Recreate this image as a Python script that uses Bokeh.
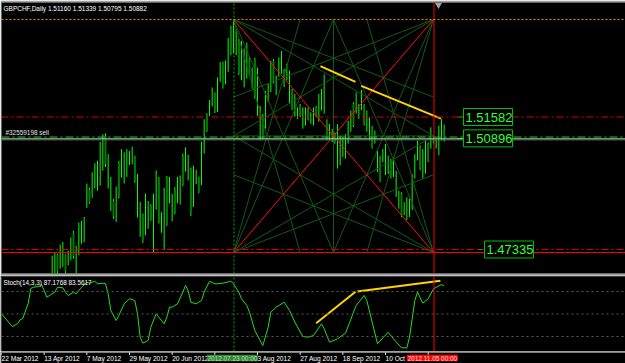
import numpy as np
from bokeh.plotting import figure
from bokeh.models import Range1d, Span, Label, BoxAnnotation
from bokeh.layouts import column
from bokeh.embed import file_html
from bokeh.resources import INLINE
from bokeh.core.properties import value

# ------------------------------------------------------------------ data
symbol_title = "GBPCHF,Daily  1.51160 1.51339 1.50795 1.50882"
stoch_title = "Stoch(14,3,3) 87.1768 83.5617"
order_text = "#32559198 sell"

first_bar = 19  # bar index 0 = 22 Mar 2012 (daily bars, weekdays)

opens = [
    1.4660, 1.4704, 1.4717, 1.4676, 1.4740, 1.4718, 1.4687, 1.4704, 1.4787, 1.4660,
    1.4723, 1.4758, 1.4763, 1.4873, 1.4927, 1.4906, 1.4937, 1.4932, 1.4947, 1.4993,
    1.5098, 1.4937, 1.4865, 1.4889, 1.4830, 1.5011, 1.4972, 1.4952, 1.4972, 1.5008,
    1.5013, 1.5029, 1.4845, 1.4782, 1.4843, 1.4786, 1.4806, 1.4874, 1.4734, 1.4867,
    1.4960, 1.4794, 1.4739, 1.4963, 1.4887, 1.4829, 1.4928, 1.4887, 1.4883, 1.5035,
    1.4988, 1.4959, 1.4990, 1.4874, 1.4947, 1.4962, 1.4945, 1.5045, 1.5165, 1.5165,
    1.5196, 1.5232, 1.5178, 1.5275, 1.5331, 1.5267, 1.5307, 1.5444, 1.5367, 1.5424,
    1.5402, 1.5281, 1.5259, 1.5285, 1.5343, 1.5254, 1.5342, 1.5167, 1.5090, 1.5162,
    1.5126, 1.5211, 1.5242, 1.5338, 1.5232, 1.5291, 1.5301, 1.5307, 1.5280, 1.5207,
    1.5243, 1.5163, 1.5156, 1.5195, 1.5125, 1.5135, 1.5184, 1.5141, 1.5135, 1.5189,
    1.5147, 1.5184, 1.5173, 1.5146, 1.5087, 1.5082, 1.5104, 1.4997, 1.5008, 1.5034,
    1.5030, 1.5077, 1.5115, 1.5200, 1.5173, 1.5156, 1.5184, 1.5195, 1.5115, 1.5087,
    1.5125, 1.5077, 1.4986, 1.5029, 1.5018, 1.4976, 1.4980, 1.5019, 1.4970, 1.4906,
    1.4868, 1.4912, 1.4847, 1.4832, 1.4842, 1.4864, 1.4965, 1.5023, 1.5062, 1.4965,
    1.4981, 1.5072, 1.5061, 1.5089, 1.5061, 1.5040, 1.5087, 1.51160]
highs = [
    1.4714, 1.4725, 1.4720, 1.4749, 1.4758, 1.4720, 1.4730, 1.4772, 1.4793, 1.4746,
    1.4820, 1.4825, 1.4838, 1.4945, 1.4932, 1.4981, 1.5010, 1.5018, 1.5079, 1.5103,
    1.5106, 1.5039, 1.4966, 1.4895, 1.4935, 1.5017, 1.5055, 1.5045, 1.5055, 1.5049,
    1.5063, 1.5034, 1.4976, 1.4886, 1.4849, 1.4913, 1.4889, 1.4879, 1.4912, 1.4987,
    1.4966, 1.4853, 1.4931, 1.4969, 1.4966, 1.4912, 1.4934, 1.4966, 1.4971, 1.5041,
    1.5061, 1.5037, 1.4996, 1.5002, 1.4989, 1.4967, 1.5079, 1.5151, 1.5170, 1.5213,
    1.5253, 1.5237, 1.5285, 1.5334, 1.5336, 1.5339, 1.5411, 1.5450, 1.5471, 1.5440,
    1.5408, 1.5402, 1.5378, 1.5397, 1.5349, 1.5317, 1.5348, 1.5317, 1.5194, 1.5168,
    1.5242, 1.5264, 1.5338, 1.5344, 1.5291, 1.5349, 1.5370, 1.5312, 1.5329, 1.5307,
    1.5248, 1.5232, 1.5189, 1.5200, 1.5189, 1.5189, 1.5189, 1.5173, 1.5189, 1.5194,
    1.5232, 1.5248, 1.5295, 1.5151, 1.5136, 1.5120, 1.5109, 1.5135, 1.5098, 1.5093,
    1.5103, 1.5146, 1.5179, 1.5205, 1.5237, 1.5200, 1.5245, 1.5200, 1.5179, 1.5157,
    1.5130, 1.5115, 1.5050, 1.5034, 1.5056, 1.5072, 1.5034, 1.5024, 1.5029, 1.4986,
    1.4922, 1.4917, 1.4885, 1.4901, 1.4896, 1.4975, 1.5039, 1.5082, 1.5067, 1.5055,
    1.5082, 1.5077, 1.5125, 1.5094, 1.5088, 1.5130, 1.5151, 1.51339]
lows = [
    1.4647, 1.4652, 1.4654, 1.4672, 1.4678, 1.4657, 1.4683, 1.4699, 1.4704, 1.4652,
    1.4715, 1.4752, 1.4757, 1.4867, 1.4880, 1.4899, 1.4929, 1.4922, 1.4938, 1.4986,
    1.4998, 1.4929, 1.4857, 1.4832, 1.4822, 1.4897, 1.4964, 1.4945, 1.4966, 1.5004,
    1.5007, 1.4947, 1.4836, 1.4774, 1.4754, 1.4779, 1.4800, 1.4826, 1.4724, 1.4861,
    1.4817, 1.4787, 1.4732, 1.4809, 1.4882, 1.4824, 1.4846, 1.4882, 1.4878, 1.4936,
    1.4983, 1.4955, 1.4841, 1.4870, 1.4943, 1.4914, 1.4940, 1.5041, 1.5110, 1.5161,
    1.5192, 1.5171, 1.5174, 1.5271, 1.5249, 1.5263, 1.5303, 1.5356, 1.5362, 1.5356,
    1.5293, 1.5276, 1.5253, 1.5281, 1.5287, 1.5249, 1.5217, 1.5162, 1.5084, 1.5089,
    1.5121, 1.5206, 1.5238, 1.5266, 1.5228, 1.5287, 1.5297, 1.5254, 1.5276, 1.5202,
    1.5180, 1.5159, 1.5152, 1.5158, 1.5121, 1.5131, 1.5147, 1.5137, 1.5131, 1.5158,
    1.5143, 1.5180, 1.5169, 1.5083, 1.5083, 1.5078, 1.5073, 1.4993, 1.5004, 1.5030,
    1.5025, 1.5073, 1.5111, 1.5126, 1.5169, 1.5152, 1.5180, 1.5131, 1.5111, 1.5083,
    1.5057, 1.5073, 1.4982, 1.4950, 1.5014, 1.4972, 1.4976, 1.4961, 1.4966, 1.4902,
    1.4864, 1.4838, 1.4843, 1.4828, 1.4838, 1.4860, 1.4961, 1.5019, 1.4988, 1.4961,
    1.4977, 1.5014, 1.5057, 1.5073, 1.5057, 1.5036, 1.5083, 1.50795]
closes = [
    1.4704, 1.4717, 1.4664, 1.4740, 1.4744, 1.4664, 1.4724, 1.4766, 1.4712, 1.4740,
    1.4811, 1.4818, 1.4831, 1.4935, 1.4885, 1.4971, 1.5002, 1.5009, 1.5067, 1.5093,
    1.5008, 1.5027, 1.4955, 1.4839, 1.4925, 1.4906, 1.5047, 1.5037, 1.5047, 1.5043,
    1.5056, 1.4955, 1.4967, 1.4879, 1.4761, 1.4904, 1.4882, 1.4832, 1.4904, 1.4980,
    1.4825, 1.4846, 1.4924, 1.4815, 1.4960, 1.4906, 1.4853, 1.4960, 1.4965, 1.4942,
    1.5054, 1.5031, 1.4848, 1.4996, 1.4983, 1.4920, 1.5072, 1.5144, 1.5115, 1.5207,
    1.5247, 1.5177, 1.5279, 1.5328, 1.5255, 1.5333, 1.5404, 1.5362, 1.5425, 1.5434,
    1.5299, 1.5393, 1.5371, 1.5391, 1.5293, 1.5312, 1.5224, 1.5310, 1.5188, 1.5095,
    1.5236, 1.5258, 1.5332, 1.5271, 1.5286, 1.5343, 1.5363, 1.5260, 1.5323, 1.5300,
    1.5185, 1.5227, 1.5184, 1.5163, 1.5184, 1.5184, 1.5152, 1.5168, 1.5184, 1.5163,
    1.5227, 1.5243, 1.5289, 1.5089, 1.5131, 1.5115, 1.5078, 1.5128, 1.5092, 1.5087,
    1.5098, 1.5141, 1.5174, 1.5131, 1.5231, 1.5195, 1.5239, 1.5136, 1.5174, 1.5151,
    1.5062, 1.5110, 1.5045, 1.4955, 1.5051, 1.5066, 1.5029, 1.4966, 1.5024, 1.4981,
    1.4917, 1.4843, 1.4880, 1.4896, 1.4891, 1.4970, 1.5034, 1.5077, 1.4993, 1.5050,
    1.5077, 1.5019, 1.5120, 1.5078, 1.5083, 1.5125, 1.5146, 1.50882]

stoch_bar = [0, 4, 6, 7, 8, 10, 11, 12, 14, 15, 16, 17, 18, 20, 21, 23, 24, 25, 27, 28,
             29, 30, 32, 33, 35, 36, 38, 39, 40, 41, 43, 44, 46, 48, 50, 51, 52, 53, 55, 56,
             58, 59, 61, 62, 63, 64, 66, 68, 69, 70, 71, 73, 75, 76, 78, 80, 81, 83, 86, 87,
             89, 90, 92, 93, 95, 98, 100, 101, 103, 106, 108, 110, 113, 115, 117, 120, 121,
             123, 126, 129, 132, 133, 136, 137, 139, 141, 145, 147, 150, 152, 153, 155, 156,
             158, 160, 162, 165, 166]
stoch_val = [50.3, 33.3, 36.9, 42.3, 44.0, 64.0, 84.0, 85.7, 86.7, 89.3, 81.3, 72.4, 74.7,
             79.1, 85.7, 84.9, 79.1, 74.7, 79.1, 76.9, 81.3, 85.7, 92.4, 91.1, 93.7, 90.3,
             91.1, 90.3, 76.9, 54.7, 41.3, 48.0, 63.6, 70.3, 68.0, 50.3, 19.1, 11.1, 14.7,
             32.4, 50.3, 45.7, 36.9, 45.7, 59.1, 59.1, 63.6, 79.1, 88.0, 81.3, 65.7, 63.6,
             68.0, 79.1, 93.7, 90.3, 90.3, 91.1, 93.7, 90.3, 79.1, 70.3, 61.3, 52.4, 28.0,
             8.0, 32.4, 52.4, 59.1, 65.7, 54.7, 39.1, 20.0, 19.1, 21.3, 36.9, 30.3, 12.4,
             16.9, 24.4, 52.4, 61.3, 74.7, 68.0, 39.1, 10.3, 25.7, 16.9, 4.9, 4.9, 19.1,
             68.0, 79.1, 64.4, 70.3, 83.6, 89.3, 87.2]
stoch_levels = [20, 50, 80]

tick_bars = [0, 16, 32, 48, 64, 80, 96, 112, 128, 144, 160]
tick_labels = ["22 Mar 2012", "13 Apr 2012", "7 May 2012", "29 May 2012", "20 Jun 2012",
               "12 Jul 2012", "3 Aug 2012", "27 Aug 2012", "18 Sep 2012", "10 Oct 2012",
               "1 Nov 2012"]

marker_bars = [87, 162]
marker_labels = ["2012.07.23 00:00", "2012.11.05 00:00"]

gann_start_bar, gann_end_bar = 87, 162
gann_top, gann_bottom = 1.5471, 1.4724

top_level = 1.5471
sl_level = 1.51582
tp_level = 1.47335
support_level = 1.4724
order_level = 1.5094
bid_level = 1.50882
ask_level = 1.5085
price_labels = [1.51582, 1.50896, 1.47335]

trend_main = [(119.6, 1.5321, 132.75, 1.5271), (134.9, 1.5258, 164.8, 1.5153)]
trend_stoch = [(118.0, 37.7, 132.75, 79.6), (133.4, 80.0, 164.6, 94.3)]

# ------------------------------------------------------------------ layout helpers
BAR_PX = 8 / 3
X_END = 624 / BAR_PX
PRICE_TOP, PRICE_BOT = 1.55252, 1.46566
PRICE_PX = (PRICE_TOP - PRICE_BOT) / 271
FONT = "Liberation Sans"
HALF_PX = 0.5 / BAR_PX  # nudge vertical lines onto a pixel centre

x_range = Range1d(0, X_END)


def bx(px):
    return (px - 1) / BAR_PX


def py(px):
    return PRICE_TOP - (px - 2) * PRICE_PX


def base_fig(h, yr, top, bottom, border):
    f = figure(width=625, height=h, x_range=x_range, y_range=yr, output_backend="svg",
               toolbar_location=None, x_axis_location=None, y_axis_location=None,
               min_border_left=1, min_border_right=0, min_border_top=top,
               min_border_bottom=bottom)
    f.background_fill_color = "black"
    f.border_fill_color = border
    f.outline_line_color = None
    f.xgrid.grid_line_color = None
    f.ygrid.grid_line_color = None
    return f


def add_markers(f, y0, y1):
    f.segment([marker_bars[0] + HALF_PX], [y0], [marker_bars[0] + HALF_PX], [y1],
              line_color="#00b000", line_dash="2 2", line_width=1)
    f.segment([marker_bars[1] + HALF_PX], [y0], [marker_bars[1] + HALF_PX], [y1],
              line_color="#ff0000", line_width=1)


# ------------------------------------------------------------------ main pane
p = base_fig(275, Range1d(PRICE_BOT, PRICE_TOP), 2, 2, "#a0a0a0")

idx = np.arange(first_bar, first_bar + len(opens))
o, h, l, c = (np.array(a) for a in (opens, highs, lows, closes))
bear = c < o
p.segment(idx, l, idx, h, line_color="#00ff00", line_width=1)
p.vbar(x=idx[bear], width=0.7, top=o[bear], bottom=c[bear],
       fill_color="#007a00", line_color=None)

# Gann grid: from every corner, lines to 1/3 and 1/2 of the opposite sides
xL, xR, yB, yT = gann_start_bar, gann_end_bar, gann_bottom, gann_top
gw, gh = xR - xL, yT - yB
gx0, gy0, gx1, gy1 = [], [], [], []
for cx, cy, sx, sy in ((xL, yB, 1, 1), (xL, yT, 1, -1), (xR, yT, -1, -1), (xR, yB, -1, 1)):
    ox = xR if sx > 0 else xL
    oy = yT if sy > 0 else yB
    for f in (1 / 3, 1 / 2):
        gx0 += [cx, cx]
        gy0 += [cy, cy]
        gx1 += [cx + sx * f * gw, ox]
        gy1 += [oy, cy + sy * f * gh]
gx0 += [xL + gw / 2, xL]
gy0 += [yB, yB + gh / 2]
gx1 += [xL + gw / 2, xR]
gy1 += [yT, yB + gh / 2]
p.segment(gx0, gy0, gx1, gy1, line_color="#145a14", line_width=1)
p.segment([xL, xL], [yB, yT], [xR, xR], [yT, yB], line_color="#ff1010", line_width=1)

# yellow trendlines
p.segment([t[0] for t in trend_main], [t[1] for t in trend_main],
          [t[2] for t in trend_main], [t[3] for t in trend_main],
          line_color="#ffd400", line_width=2)

# horizontal lines
p.add_layout(Span(location=top_level, dimension="width", line_color="#f0902a",
                  line_dash="2 2", line_width=1))
for lv in (sl_level, tp_level):
    p.add_layout(Span(location=lv, dimension="width", line_color="#d80000",
                      line_dash="7 3 2 3", line_width=1))
p.add_layout(Span(location=support_level, dimension="width", line_color="#ff0000", line_width=1))
p.add_layout(Span(location=order_level, dimension="width", line_color="#30c030",
                  line_dash="8 3 2 3", line_width=1))
p.add_layout(Span(location=bid_level, dimension="width", line_color="#98f098", line_width=1))
p.add_layout(Span(location=ask_level, dimension="width", line_color="#6a6a7a", line_width=1))
add_markers(p, PRICE_BOT, PRICE_TOP)

# price label boxes on the right
box_left_px = [463, 463, 484]
for v, lp in zip(price_labels, box_left_px):
    p.segment([bx(lp - 6)], [v], [bx(lp)], [v], line_color="#00c000", line_width=1)
    p.add_layout(BoxAnnotation(left=bx(lp), right=bx(lp + 49), top=v + 8.5 * PRICE_PX,
                               bottom=v - 8.5 * PRICE_PX, fill_color="black", fill_alpha=1,
                               line_color="#00c000", line_width=1, line_alpha=1))
    p.add_layout(Label(x=bx(lp + 2), y=v, text=f"{v:.5f}", text_font=FONT,
                       text_font_size="13px", text_color="#33ff33",
                       text_baseline="middle", text_align="left"))

p.add_layout(Label(x=bx(3), y=py(8), text=symbol_title, text_font=FONT,
                   text_font_size="6.5px", text_color="white",
                   text_baseline="middle", text_align="left"))
p.add_layout(Label(x=bx(5), y=py(132), text=order_text, text_font=FONT,
                   text_font_size="6.4px", text_color="#e0e0e0",
                   text_baseline="middle", text_align="left"))
p.scatter(x=[bx(438)], y=[py(4.5)], marker="inverted_triangle", size=7,
          fill_color="#a0a0a8", line_color=None)

# ------------------------------------------------------------------ stochastic pane
s = base_fig(76, Range1d(0, 100), 1, 0, "black")
for lv in stoch_levels:
    s.add_layout(Span(location=lv, dimension="width", line_color="#5a5a5a",
                      line_dash="2 3", line_width=1))
s.line(stoch_bar, stoch_val, line_color="#22dd22", line_width=1)
s.segment([t[0] for t in trend_stoch], [t[1] for t in trend_stoch],
          [t[2] for t in trend_stoch], [t[3] for t in trend_stoch],
          line_color="#ffd400", line_width=2)
add_markers(s, 0, 100)
s.add_layout(Label(x=bx(3), y=92, text=stoch_title, text_font=FONT, text_font_size="6.4px",
                   text_color="white", text_baseline="middle", text_align="left"))

# ------------------------------------------------------------------ time axis strip
t = base_fig(12, Range1d(0, 12), 0, 0, "black")
half = 25.5 / BAR_PX
mb = np.array(marker_bars) - 0.4
t.segment(tick_bars, [11.0] * len(tick_bars), tick_bars, [8.7] * len(tick_bars),
          line_color="white", line_width=1)
# labels that start inside a highlighted date box are hidden by it
shown = [i for i, b in enumerate(tick_bars)
         if not any(m - half <= b < m + half - 1 for m in mb)]
t.text(x=[tick_bars[i] for i in shown], y=[5.3] * len(shown),
       text=[tick_labels[i] for i in shown], text_font=value(FONT),
       text_font_size="6.6px", text_color="white", text_baseline="middle", text_align="left")
t.quad(left=mb - half, right=mb + half, top=[8.8, 8.8], bottom=[2.2, 2.2],
       fill_color=["#2e8b2e", "#ff0000"], line_color=None)
t.text(x=mb, y=[5.3, 5.3], text=marker_labels, text_font=value(FONT),
       text_font_size="6.4px", text_color=["#c8d8c8", "#ffe0e0"],
       text_baseline="middle", text_align="center")
t.add_layout(Span(location=11.5, dimension="width", line_color="white", line_width=1))

layout = column(p, s, t, spacing=0)
open("out.html", "w").write(file_html(layout, INLINE))
